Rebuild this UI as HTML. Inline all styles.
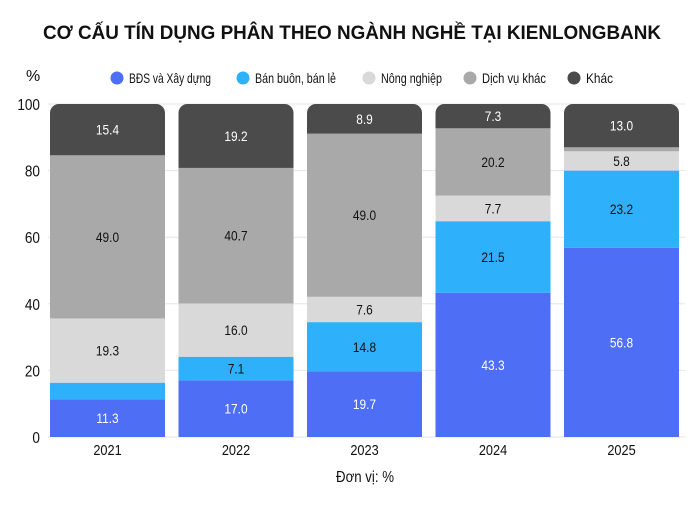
<!DOCTYPE html>
<html><head><meta charset="utf-8"><style>
body{margin:0;background:#fff;width:700px;height:500px;overflow:hidden}
svg text{font-family:"Liberation Sans Narrow","Liberation Sans",sans-serif}
</style></head><body>
<svg id="c" width="700" height="500">
<text x="352" y="39" text-anchor="middle" font-size="19" font-weight="bold" fill="#111" textLength="618" lengthAdjust="spacingAndGlyphs" style="font-family:'Liberation Sans',sans-serif">CƠ CẤU TÍN DỤNG PHÂN THEO NGÀNH NGHỀ TẠI KIENLONGBANK</text>
<text x="26" y="81" font-size="16" fill="#111">%</text>
<g id="legend"></g>
<g id="grid"></g>
<g id="bars"></g>
<text x="365" y="482" text-anchor="middle" font-size="16" fill="#111" textLength="58" lengthAdjust="spacingAndGlyphs">Đơn vị: %</text>
</svg>
<script>
const years=["2021","2022","2023","2024","2025"];
const seriesNames=["BĐS và Xây dựng","Bán buôn, bán lẻ","Nông nghiệp","Dịch vụ khác","Khác"];
const bds=[11.3,17.0,19.7,43.3,56.8];
const banbuon=[5.0,7.1,14.8,21.5,23.2];
const nongnghiep=[19.3,16.0,7.6,7.7,5.8];
const dichvu=[49.0,40.7,49.0,20.2,1.2];
const khac=[15.4,19.2,8.9,7.3,13.0];
const yTicks=[0,20,40,60,80,100];
const series=[bds,banbuon,nongnghiep,dichvu,khac];
const colors=["#4d6ef5","#2eb0fb","#d9d9d9","#a9a9a9","#4b4b4b"];
const textCol=["#fff","#111","#111","#111","#fff"];
const NS="http://www.w3.org/2000/svg";
const y0=437,y1=104;
const y=v=>y0-(y0-y1)*v/100;
const bx=i=>50+i*128.5, bw=115;
function el(t,a,p){const e=document.createElementNS(NS,t);for(const k in a)e.setAttribute(k,a[k]);p.appendChild(e);return e;}
const grid=document.getElementById('grid'),bars=document.getElementById('bars'),leg=document.getElementById('legend');
yTicks.forEach(t=>{
 const l=el('line',{x1:48,x2:685,y1:y(t),y2:y(t),stroke:'#e6e6e6'},grid);
 
 
 const tx=el('text',{x:40,y:y(t)+6,'text-anchor':'end','font-size':16,fill:'#111',transform:'translate(40 0) scale(0.85 1) translate(-40 0)'},grid);
 tx.textContent=t;
 
 
});
const legX=[117,243,369,470,574];
const legW=[82,81,61,64,27];
seriesNames.forEach((n,i)=>{
 const g=el('g',{},leg);
 
 
 el('circle',{cx:legX[i],cy:78,r:6.5,fill:colors[i]},g);
 const t=el('text',{x:legX[i]+12,y:83,'font-size':14,fill:'#111',textLength:legW[i],lengthAdjust:'spacingAndGlyphs'},g);
 t.textContent=n;
});
const defs=el('defs',{},document.getElementById('c'));
years.forEach((yr,i)=>{
 const cp=el('clipPath',{id:'cp'+i},defs);
 el('rect',{x:bx(i),y:y(100),width:bw,height:y0-y(100)+10,rx:9},cp);
 el('rect',{x:bx(i),y:y(50),width:bw,height:y0-y(50)},cp);
 const g=el('g',{'clip-path':'url(#cp'+i+')'},bars);
 
 
 let acc=0;
 series.forEach((s,k)=>{
  const v=s[i];
  const r=el('rect',{x:bx(i),y:y(acc+v),width:bw,height:y(acc)-y(acc+v),fill:colors[k]},g);
  
  
  if(v>=5.5){
   const cx=bx(i)+bw/2;
   const t=el('text',{x:cx,y:(y(acc)+y(acc+v))/2+5,'text-anchor':'middle','font-size':14,fill:textCol[k],transform:`translate(${cx} 0) scale(0.85 1) translate(${-cx} 0)`},bars);
   t.textContent=v.toFixed(1);
   
   
  }
  acc+=v;
 });
 const cx=bx(i)+bw/2;
 const xl=el('text',{x:cx,y:455,'text-anchor':'middle','font-size':15,fill:'#111',transform:`translate(${cx} 0) scale(0.85 1) translate(${-cx} 0)`},bars);
 xl.textContent=yr;
 
 
});
</script>
</body></html>
